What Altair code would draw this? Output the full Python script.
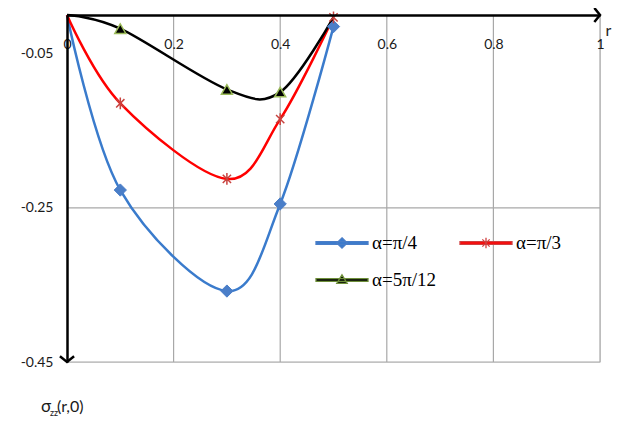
import altair as alt
import pandas as pd

# ---- data ----
r_vals = [0.0, 0.1, 0.3, 0.4, 0.5]
blue_vals = [0.0, -0.227, -0.358, -0.245, -0.015]   # alpha = pi/4
red_vals = [0.0, -0.1145, -0.2126, -0.135, -0.003]  # alpha = pi/3
black_vals = [0.0, -0.0177, -0.0965, -0.100, -0.003]  # alpha = 5pi/12
series_names = ["α=π/4", "α=π/3", "α=5π/12"]

x_ticks = [0, 0.2, 0.4, 0.6, 0.8, 1.0]
y_ticks = [-0.45, -0.25, -0.05]
x_grid = [0.2, 0.4, 0.6, 0.8, 1.0]
y_grid = [-0.25, -0.45]
x_end = [1.0]
y_end = [-0.45]

W, H = 533, 347
BLUE = "#3A7BCC"
RED = "#FF0000"
BLACK = "#000000"
SANS = "Lato"
SERIF = "Liberation Serif"

def series_df(vals, name):
    return pd.DataFrame({"r": r_vals, "v": vals, "series": name})

dfs = [series_df(blue_vals, series_names[0]),
       series_df(red_vals, series_names[1]),
       series_df(black_vals, series_names[2])]

xs = alt.Scale(domain=[0, 1], nice=False, zero=False)
ys = alt.Scale(domain=[-0.45, 0], nice=False, zero=False)

x_axis = alt.Axis(values=x_ticks, format="~g", orient="bottom", offset=-H,
                  grid=False, ticks=False, domainColor="black", domainWidth=2.5,
                  labelPadding=22, labelFont=SANS, labelFontSize=14, labelColor="#1a1a1a",
                  labelOverlap=False, labelBound=False, labelFlush=False,
                  title="r", titleX=W + 5, titleY=15, titleAlign="left",
                  titleBaseline="middle", titleFont=SANS, titleFontSize=16,
                  titleFontWeight="normal", titleColor="#222", zindex=2)
y_axis = alt.Axis(values=y_ticks, grid=False, ticks=False, domainColor="black",
                  domainWidth=2.5, labelPadding=14, labelFont=SANS, labelFontSize=14,
                  labelColor="#1a1a1a", labelOverlap=False, labelBound=False,
                  labelFlush=False,
                  labelExpr="replace(format(datum.value, '.2f'), '\u2212', '-')",
                  title=None, zindex=2)

def X(f):
    return alt.X(f, scale=xs, axis=x_axis, title="r")

def Y(f):
    return alt.Y(f, scale=ys, axis=y_axis, title=None)

vgrid = alt.Chart(pd.DataFrame({"g": x_grid})).mark_rule(color="#A8A8A8", strokeWidth=1.2).encode(
    x=X("g:Q"))
hgrid = alt.Chart(pd.DataFrame({"g": y_grid})).mark_rule(color="#A8A8A8", strokeWidth=1.2).encode(
    y=Y("g:Q"))

colors = [BLUE, RED, BLACK]
layers = [vgrid, hgrid]
for i, d in enumerate(dfs):
    layers.append(alt.Chart(d).mark_line(color=colors[i], strokeWidth=2.5,
                                          interpolate="cardinal").encode(x=X("r:Q"), y=Y("v:Q")))

asterisk = "M-0.7,-0.7L0.7,0.7M-0.7,0.7L0.7,-0.7M0,-1V1"
layers.append(alt.Chart(dfs[0]).mark_point(shape="diamond", fill="#4A7EC8", stroke="#4A7EC8",
                                           strokeWidth=1, size=150, opacity=1)
              .encode(x=X("r:Q"), y=Y("v:Q")).transform_filter("datum.r > 0"))
layers.append(alt.Chart(dfs[1]).mark_point(shape=asterisk, filled=False, stroke="#C8423E",
                                           strokeWidth=1.5, size=140, opacity=1)
              .encode(x=X("r:Q"), y=Y("v:Q")).transform_filter("datum.r > 0"))
layers.append(alt.Chart(dfs[2]).mark_point(shape="triangle-up", fill="#000000", stroke="#9BBB59",
                                           strokeWidth=1.5, size=120, opacity=1)
              .encode(x=X("r:Q"), y=Y("v:Q")).transform_filter("datum.r > 0 && datum.r < 0.5"))

# axis arrowheads
layers.append(alt.Chart(pd.DataFrame({"x": x_end, "y": [0.0]})).mark_point(
    shape="M-0.8,-1L0,0L-0.8,1", filled=False, stroke="black", strokeWidth=2.5,
    size=200, opacity=1).encode(x=X("x:Q"), y=Y("y:Q")))
layers.append(alt.Chart(pd.DataFrame({"x": [0.0], "y": y_end})).mark_point(
    shape="M-1,-0.8L0,0L1,-0.8", filled=False, stroke="black", strokeWidth=2.5,
    size=200, opacity=1).encode(x=X("x:Q"), y=Y("y:Q")))

# legend (line + marker symbols)
bar = "M-1,-0.05H1V0.05H-1Z"
leg_paths = [bar + "M0,-0.2L0.2,0L0,0.2L-0.2,0Z",
             bar + "M-0.14,-0.14L0.14,0.14M-0.14,0.14L0.14,-0.14M0,-0.2V0.2",
             bar + "M0,-0.2L0.2,0.13L-0.2,0.13Z"]
leg_fill = [BLUE, RED, BLACK]
leg_stroke = ["#4A7EC8", "#D04040", "#6E8F3A"]
leg = alt.Legend(title=None, orient="none", legendX=248, legendY=201, direction="horizontal",
                 columns=2, columnPadding=20, rowPadding=0, padding=0,
                 symbolSize=2704, symbolStrokeWidth=1.3, labelOffset=3,
                 labelFont=SERIF, labelFontSize=19, labelColor="black",
                 symbolOpacity=1)
legend_layer = alt.Chart(pd.DataFrame({"series": series_names})).mark_point(
    size=2704, strokeWidth=1.3, opacity=1, filled=True).encode(
    shape=alt.Shape("series:N", scale=alt.Scale(domain=series_names, range=leg_paths), legend=leg),
    fill=alt.Fill("series:N", scale=alt.Scale(domain=series_names, range=leg_fill), legend=leg),
    stroke=alt.Stroke("series:N", scale=alt.Scale(domain=series_names, range=leg_stroke), legend=leg),
).transform_filter("false")
layers.append(legend_layer)

# y title sigma_zz(r,0)
def txt(s, x, y, size, font=SANS):
    return alt.Chart(pd.DataFrame({"t": [s]})).mark_text(
        align="left", baseline="middle", font=font, fontSize=size, color="#1a1a1a").encode(
        x=alt.value(x), y=alt.value(y), text="t:N")

layers.append(txt("σ", 41 - 67, 407 - 15, 17))
layers.append(txt("zz", 50 - 67, 413 - 15, 9))
layers.append(txt("(r,0)", 57 - 67, 407 - 15, 16))

chart = alt.layer(*layers).properties(
    width=W, height=H,
    autosize=alt.AutoSizeParams(type="none"),
    padding={"left": 59, "top": 7, "right": 13, "bottom": 58},
).configure_view(stroke=None).configure(background="white")

chart.save("out.html", embed_options={"renderer": "svg", "actions": False})
